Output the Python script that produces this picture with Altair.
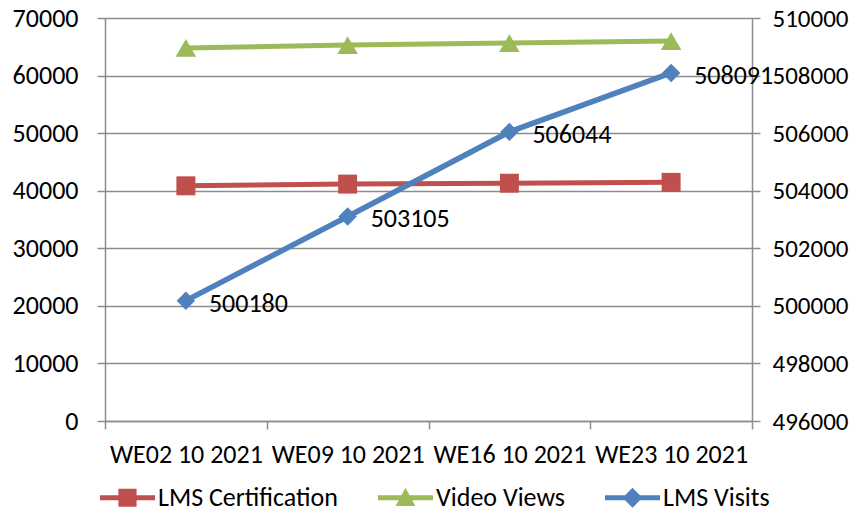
import altair as alt
import pandas as pd

weeks = ["WE02 10 2021", "WE09 10 2021", "WE16 10 2021", "WE23 10 2021"]
lms_certification = [40850, 41150, 41300, 41450]
video_views = [64800, 65300, 65650, 66000]
lms_visits = [500180, 503105, 506044, 508091]
series_names = ["LMS Certification", "Video Views", "LMS Visits"]
series_colors = ["#C0504D", "#9BBB59", "#4F81BD"]
left_ticks = list(range(0, 70001, 10000))
right_ticks = list(range(496000, 510001, 2000))

FONT = "Calibri, Carlito, Lato"
FS = 26
GRID = "#8C8C8C"

# legend symbols: line + marker
legend_paths = [
    "M-1,-0.09H1V0.09H-1Z M-0.33,-0.33H0.33V0.33H-0.33Z",
    "M-1,-0.09H1V0.09H-1Z M0,-0.36L0.36,0.3H-0.36Z",
    "M-1,-0.09H1V0.09H-1Z M0,-0.36L0.36,0L0,0.36L-0.36,0Z",
]

cert_df = pd.DataFrame({"week": weeks, "value": lms_certification})
video_df = pd.DataFrame({"week": weeks, "value": video_views})
visits_df = pd.DataFrame({"week": weeks, "visits": lms_visits})
legend_df = pd.DataFrame({"series": series_names, "week": [weeks[0]] * len(series_names),
                          "value": [lms_certification[0]] * len(series_names)})

X = alt.X(
    "week:N",
    sort=weeks,
    scale=alt.Scale(type="band", paddingInner=0, paddingOuter=0, domain=weeks),
    axis=alt.Axis(
        title=None, labelAngle=0, tickBand="extent", grid=False,
        domainColor=GRID, tickColor=GRID, tickSize=8, labelPadding=12,
        labelFont=FONT, labelFontSize=FS, labelColor="black", domainWidth=1.5, tickWidth=1.5,
    ),
)

YL = alt.Y(
    "value:Q",
    scale=alt.Scale(domain=[0, 70000], nice=False, zero=True),
    axis=alt.Axis(
        title=None, values=left_ticks, format="d", grid=True, gridColor=GRID, gridWidth=1.5,
        domainColor=GRID, domainWidth=1.5, tickColor=GRID, tickWidth=1.5, tickSize=8, labelPadding=19,
        labelFont=FONT, labelFontSize=FS, labelColor="black",
    ),
)

YR = alt.Y(
    "visits:Q",
    scale=alt.Scale(domain=[496000, 510000], nice=False, zero=False),
    axis=alt.Axis(
        title=None, orient="right", values=right_ticks, format="d", grid=False,
        domainColor=GRID, domainWidth=1.5, tickColor=GRID, tickWidth=1.5, tickSize=8, labelPadding=12,
        labelFont=FONT, labelFontSize=25, labelColor="black",
    ),
)

cert_line = alt.Chart(cert_df).mark_line(color=series_colors[0], strokeWidth=5).encode(x=X, y=YL)
cert_pts = alt.Chart(cert_df).mark_point(shape="square", filled=True, opacity=1, size=360,
                                         color=series_colors[0]).encode(x=X, y=YL)
video_line = alt.Chart(video_df).mark_line(color=series_colors[1], strokeWidth=5).encode(x=X, y=YL)
video_pts = alt.Chart(video_df).mark_point(shape="triangle-up", filled=True, opacity=1, size=420,
                                           color=series_colors[1]).encode(x=X, y=YL)

LEG = dict(title=None, symbolSize=3025, orient="none", legendX=-5, legendY=452,
           direction="horizontal", columnPadding=40, labelFont=FONT, labelFontSize=FS,
           labelColor="black", symbolStrokeWidth=0, labelOffset=3, padding=0, symbolOpacity=1,
           labelLimit=400)

# legend-only layer: tiny points hidden under the first red square
legend_layer = alt.Chart(legend_df).mark_point(filled=True, opacity=1, strokeWidth=0, size=1).encode(
    x=X,
    y=YL,
    color=alt.Color("series:N", scale=alt.Scale(domain=series_names, range=series_colors),
                    legend=alt.Legend(**LEG)),
    shape=alt.Shape("series:N", scale=alt.Scale(domain=series_names, range=legend_paths),
                    legend=alt.Legend(**LEG)),
)

left = alt.layer(legend_layer, cert_line, video_line, cert_pts, video_pts)

visits_line = alt.Chart(visits_df).mark_line(color=series_colors[2], strokeWidth=5.5).encode(x=X, y=YR)
visits_pts = alt.Chart(visits_df).mark_point(shape="diamond", filled=True, opacity=1, size=340,
                                             color=series_colors[2]).encode(x=X, y=YR)
visits_txt = alt.Chart(visits_df).mark_text(align="left", baseline="middle", dx=23, dy=3,
                                            font=FONT, fontSize=FS, color="black").encode(
    x=X, y=YR, text=alt.Text("visits:Q", format="d"))

right = alt.layer(visits_line, visits_pts, visits_txt)

chart = alt.layer(left, right).resolve_scale(y="independent").properties(
    width=647, height=403,
    autosize=alt.AutoSizeParams(type="none"),
    padding={"left": 97, "top": 10, "right": 102, "bottom": 94},
).configure_view(stroke=None).configure(background="white")

chart.save("out.html", embed_options={"renderer": "svg", "actions": False})
